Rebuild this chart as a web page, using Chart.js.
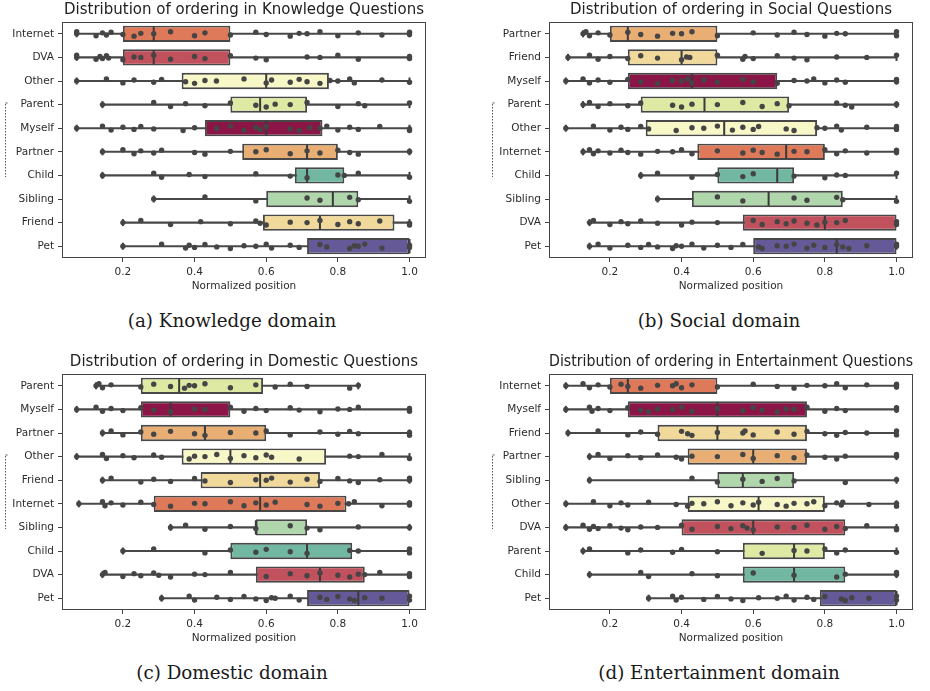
<!DOCTYPE html>
<html>
<head>
<meta charset="utf-8">
<script src="https://cdn.jsdelivr.net/npm/chart.js@4.4.1/dist/chart.umd.min.js"></script>
<style>
  html, body { margin: 0; padding: 0; background: #fff; }
  body { width: 930px; height: 691px; position: relative; overflow: hidden; }
  .panel { position: absolute; width: 465px; height: 300px; }
  .panel canvas { display: block; }
  .caption { position: absolute; font-family: 'DejaVu Serif', serif; font-size: 18.3px; color: #1a1a1a;
             white-space: nowrap; transform: translateX(-50%); line-height: 1; }
</style>
</head>
<body>
<div class="panel" style="left:0;top:0"><canvas id="knowledge" width="465" height="300"></canvas></div>
<div class="panel" style="left:465px;top:0"><canvas id="social" width="465" height="300"></canvas></div>
<div class="panel" style="left:0;top:352px"><canvas id="domestic" width="465" height="300"></canvas></div>
<div class="panel" style="left:465px;top:352px"><canvas id="entertainment" width="465" height="300"></canvas></div>
<div class="caption" style="left:232px;top:312px">(a) Knowledge domain</div>
<div class="caption" style="left:719px;top:312px">(b) Social domain</div>
<div class="caption" style="left:232px;top:664px">(c) Domestic domain</div>
<div class="caption" style="left:719px;top:664px">(d) Entertainment domain</div>
<script>
// ---------- Knowledge questions ----------
const knowledgeCategories = ['Internet', 'DVA', 'Other', 'Parent', 'Myself', 'Partner', 'Child', 'Sibling', 'Friend', 'Pet'];
const knowledgeLow    = [0.071, 0.071, 0.071, 0.143, 0.071, 0.143, 0.143, 0.286, 0.2, 0.2];
const knowledgeQ1     = [0.2, 0.2, 0.364, 0.5, 0.429, 0.533, 0.68, 0.6, 0.591, 0.714];
const knowledgeMedian = [0.286, 0.286, 0.6, 0.583, 0.6, 0.714, 0.714, 0.786, 0.75, 1.0];
const knowledgeQ3     = [0.5, 0.5, 0.775, 0.714, 0.757, 0.8, 0.818, 0.857, 0.958, 1.0];
const knowledgeHigh   = [1, 1, 1, 1, 1, 1, 1, 1, 1, 1];
const knowledgePoints = [
  [0.071, 0.071, 0.125, 0.143, 0.154, 0.167, 0.2, 0.231, 0.25, 0.286, 0.333, 0.4, 0.429, 0.5, 0.571, 0.6, 0.667, 0.692, 0.714, 0.75, 0.8, 0.857, 0.923, 1.0, 1.0],
  [0.071, 0.071, 0.125, 0.136, 0.143, 0.154, 0.16, 0.2, 0.231, 0.25, 0.286, 0.333, 0.4, 0.429, 0.5, 0.571, 0.6, 0.714, 0.75, 0.8, 0.857, 1.0, 1.0],
  [0.071, 0.154, 0.2, 0.231, 0.286, 0.308, 0.375, 0.4, 0.429, 0.461, 0.538, 0.6, 0.615, 0.667, 0.692, 0.714, 0.75, 0.778, 0.8, 0.833, 0.846, 0.923, 1.0],
  [0.143, 0.286, 0.333, 0.375, 0.429, 0.5, 0.571, 0.6, 0.625, 0.667, 0.714, 0.8, 0.857, 0.875, 1.0],
  [0.071, 0.143, 0.167, 0.2, 0.231, 0.25, 0.286, 0.368, 0.4, 0.462, 0.5, 0.538, 0.571, 0.583, 0.6, 0.667, 0.692, 0.722, 0.75, 0.769, 0.8, 0.833, 0.857, 0.917, 1.0, 1.0],
  [0.143, 0.2, 0.231, 0.25, 0.286, 0.308, 0.4, 0.429, 0.5, 0.571, 0.6, 0.667, 0.714, 0.75, 0.8, 0.833, 0.857, 1.0, 1.0],
  [0.143, 0.286, 0.308, 0.385, 0.429, 0.571, 0.667, 0.714, 0.8, 0.818, 0.857, 1.0],
  [0.286, 0.429, 0.571, 0.714, 0.75, 0.833, 0.857, 1.0],
  [0.2, 0.25, 0.333, 0.417, 0.5, 0.571, 0.583, 0.6, 0.667, 0.714, 0.75, 0.8, 0.833, 0.857, 0.917, 1.0, 1.0],
  [0.2, 0.308, 0.375, 0.385, 0.4, 0.429, 0.462, 0.5, 0.538, 0.571, 0.6, 0.615, 0.667, 0.692, 0.75, 0.769, 0.833, 0.846, 0.857, 0.875, 0.923, 1.0, 1.0]
];

// ---------- Social questions ----------
const socialCategories = ['Partner', 'Friend', 'Myself', 'Parent', 'Other', 'Internet', 'Child', 'Sibling', 'DVA', 'Pet'];
const socialLow    = [0.125, 0.083, 0.077, 0.125, 0.077, 0.125, 0.286, 0.333, 0.143, 0.143];
const socialQ1     = [0.2, 0.25, 0.25, 0.286, 0.3, 0.444, 0.5, 0.429, 0.571, 0.6];
const socialMedian = [0.25, 0.4, 0.429, 0.464, 0.519, 0.692, 0.667, 0.643, 0.8, 0.833];
const socialQ3     = [0.5, 0.5, 0.667, 0.7, 0.778, 0.8, 0.714, 0.85, 1.0, 1.0];
const socialHigh   = [1, 1, 1, 1, 1, 1, 1, 1, 1, 1];
const socialPoints = [
  [0.125, 0.133, 0.143, 0.167, 0.2, 0.25, 0.286, 0.333, 0.375, 0.4, 0.429, 0.5, 0.6, 0.667, 0.714, 0.75, 0.8, 0.833, 0.857, 1.0, 1.0],
  [0.083, 0.143, 0.167, 0.2, 0.25, 0.286, 0.333, 0.4, 0.414, 0.423, 0.5, 0.571, 0.577, 0.6, 0.667, 0.714, 0.75, 0.833, 0.917, 1.0],
  [0.077, 0.125, 0.143, 0.167, 0.2, 0.25, 0.286, 0.333, 0.375, 0.4, 0.417, 0.429, 0.462, 0.5, 0.571, 0.6, 0.667, 0.714, 0.75, 0.769, 0.8, 0.833, 0.857, 1.0, 1.0],
  [0.125, 0.143, 0.167, 0.2, 0.25, 0.286, 0.375, 0.4, 0.429, 0.5, 0.571, 0.625, 0.667, 0.7, 0.833, 0.857, 0.875, 1.0, 1.0],
  [0.077, 0.154, 0.2, 0.231, 0.25, 0.286, 0.308, 0.385, 0.429, 0.462, 0.5, 0.542, 0.571, 0.6, 0.615, 0.692, 0.714, 0.778, 0.8, 0.833, 0.846, 0.917, 1.0, 1.0],
  [0.125, 0.143, 0.154, 0.167, 0.2, 0.231, 0.25, 0.286, 0.333, 0.375, 0.4, 0.429, 0.5, 0.571, 0.6, 0.625, 0.667, 0.714, 0.75, 0.8, 0.833, 0.857, 0.917, 1.0, 1.0],
  [0.286, 0.333, 0.429, 0.5, 0.571, 0.6, 0.714, 0.8, 0.833, 0.857, 1.0],
  [0.333, 0.5, 0.571, 0.714, 0.75, 0.833, 0.85, 1.0],
  [0.143, 0.154, 0.2, 0.231, 0.25, 0.286, 0.333, 0.4, 0.429, 0.5, 0.6, 0.625, 0.667, 0.692, 0.714, 0.75, 0.778, 0.8, 0.833, 0.857, 1.0, 1.0],
  [0.143, 0.167, 0.2, 0.25, 0.286, 0.308, 0.333, 0.375, 0.385, 0.4, 0.429, 0.462, 0.5, 0.538, 0.571, 0.615, 0.625, 0.667, 0.692, 0.714, 0.75, 0.769, 0.8, 0.833, 0.85, 0.867, 0.917, 1.0, 1.0]
];

// ---------- Domestic questions ----------
const domesticCategories = ['Parent', 'Myself', 'Partner', 'Other', 'Friend', 'Internet', 'Sibling', 'Child', 'DVA', 'Pet'];
const domesticLow    = [0.125, 0.071, 0.143, 0.071, 0.143, 0.077, 0.333, 0.2, 0.143, 0.308];
const domesticQ1     = [0.25, 0.25, 0.25, 0.364, 0.417, 0.286, 0.571, 0.5, 0.571, 0.714];
const domesticMedian = [0.357, 0.333, 0.429, 0.5, 0.583, 0.583, 0.571, 0.714, 0.75, 0.857];
const domesticQ3     = [0.591, 0.5, 0.6, 0.767, 0.75, 0.824, 0.714, 0.84, 0.875, 1.0];
const domesticHigh   = [0.857, 1, 1, 1, 1, 1, 1, 1, 1, 1];
const domesticPoints = [
  [0.125, 0.133, 0.143, 0.167, 0.25, 0.286, 0.333, 0.372, 0.385, 0.4, 0.429, 0.5, 0.571, 0.625, 0.667, 0.714, 0.833, 0.857],
  [0.071, 0.125, 0.143, 0.167, 0.2, 0.25, 0.286, 0.333, 0.4, 0.429, 0.5, 0.538, 0.571, 0.6, 0.667, 0.692, 0.75, 0.8, 0.833, 0.857, 1.0, 1.0],
  [0.143, 0.167, 0.2, 0.25, 0.286, 0.333, 0.4, 0.429, 0.5, 0.571, 0.6, 0.667, 0.75, 0.8, 0.833, 0.857, 1.0, 1.0],
  [0.071, 0.143, 0.154, 0.2, 0.231, 0.286, 0.308, 0.385, 0.4, 0.429, 0.462, 0.5, 0.538, 0.571, 0.6, 0.615, 0.692, 0.833, 0.857, 0.923, 1.0],
  [0.143, 0.167, 0.25, 0.286, 0.333, 0.4, 0.429, 0.5, 0.571, 0.6, 0.615, 0.667, 0.714, 0.75, 0.8, 0.833, 0.857, 0.917, 1.0, 1.0],
  [0.077, 0.143, 0.15, 0.167, 0.2, 0.25, 0.286, 0.333, 0.4, 0.429, 0.5, 0.538, 0.571, 0.6, 0.625, 0.714, 0.75, 0.8, 0.83, 0.846, 0.923, 1.0, 1.0],
  [0.333, 0.375, 0.429, 0.5, 0.571, 0.667, 0.714, 0.75, 0.857, 1.0],
  [0.2, 0.286, 0.429, 0.5, 0.571, 0.6, 0.667, 0.714, 0.833, 0.857, 1.0, 1.0],
  [0.143, 0.15, 0.2, 0.231, 0.25, 0.286, 0.3, 0.333, 0.4, 0.429, 0.5, 0.6, 0.667, 0.714, 0.75, 0.8, 0.833, 0.857, 0.875, 0.917, 1.0, 1.0],
  [0.308, 0.385, 0.4, 0.462, 0.5, 0.538, 0.571, 0.6, 0.615, 0.625, 0.667, 0.692, 0.75, 0.769, 0.8, 0.833, 0.846, 0.875, 0.923, 1.0, 1.0]
];

// ---------- Entertainment questions ----------
const entertainmentCategories = ['Internet', 'Myself', 'Friend', 'Partner', 'Sibling', 'Other', 'DVA', 'Parent', 'Child', 'Pet'];
const entertainmentLow    = [0.077, 0.077, 0.083, 0.143, 0.143, 0.077, 0.077, 0.125, 0.143, 0.308];
const entertainmentQ1     = [0.2, 0.25, 0.333, 0.417, 0.5, 0.417, 0.4, 0.571, 0.571, 0.786];
const entertainmentMedian = [0.25, 0.5, 0.5, 0.6, 0.571, 0.615, 0.6, 0.714, 0.714, 1.0];
const entertainmentQ3     = [0.5, 0.75, 0.75, 0.75, 0.714, 0.8, 0.857, 0.8, 0.857, 1.0];
const entertainmentHigh   = [1, 1, 1, 1, 1, 1, 1, 1, 1, 1];
const entertainmentPoints = [
  [0.077, 0.125, 0.143, 0.167, 0.2, 0.231, 0.25, 0.286, 0.333, 0.375, 0.385, 0.4, 0.429, 0.5, 0.6, 0.667, 0.714, 0.75, 0.8, 0.833, 0.857, 0.917, 1.0, 1.0],
  [0.077, 0.143, 0.15, 0.167, 0.2, 0.25, 0.286, 0.308, 0.333, 0.375, 0.4, 0.429, 0.5, 0.571, 0.6, 0.625, 0.667, 0.692, 0.714, 0.75, 0.8, 0.833, 0.857, 1.0, 1.0],
  [0.083, 0.167, 0.25, 0.286, 0.333, 0.4, 0.417, 0.429, 0.5, 0.571, 0.577, 0.6, 0.667, 0.714, 0.75, 0.8, 0.833, 0.857, 0.917, 1.0, 1.0],
  [0.143, 0.167, 0.2, 0.25, 0.286, 0.333, 0.385, 0.4, 0.429, 0.5, 0.571, 0.6, 0.667, 0.714, 0.75, 0.8, 0.833, 0.857, 1.0, 1.0],
  [0.143, 0.429, 0.5, 0.571, 0.625, 0.667, 0.714, 0.857, 1.0],
  [0.077, 0.154, 0.2, 0.231, 0.25, 0.308, 0.385, 0.417, 0.429, 0.462, 0.5, 0.538, 0.571, 0.6, 0.615, 0.667, 0.692, 0.714, 0.75, 0.769, 0.8, 0.833, 0.846, 0.85, 0.923, 1.0, 1.0],
  [0.077, 0.125, 0.143, 0.154, 0.167, 0.2, 0.231, 0.25, 0.286, 0.333, 0.4, 0.429, 0.5, 0.538, 0.571, 0.583, 0.6, 0.667, 0.714, 0.75, 0.8, 0.833, 0.857, 0.917, 1.0, 1.0],
  [0.125, 0.143, 0.25, 0.286, 0.375, 0.4, 0.5, 0.625, 0.714, 0.75, 0.8, 0.833, 0.857, 1.0],
  [0.143, 0.286, 0.308, 0.429, 0.5, 0.6, 0.714, 0.833, 0.857, 1.0, 1.0],
  [0.308, 0.375, 0.385, 0.4, 0.462, 0.5, 0.538, 0.571, 0.615, 0.667, 0.692, 0.714, 0.75, 0.769, 0.8, 0.846, 0.857, 0.875, 0.923, 1.0, 1.0]
];

const xTickValues = [0.2, 0.4, 0.6, 0.8, 1.0];

// ---------- styling ----------
const CATEGORY_COLORS = {
  Myself: '#8a1546', DVA: '#c2515e', Internet: '#de7959', Partner: '#e9ae74', Friend: '#f0d99a',
  Other: '#f7f7c7', Parent: '#dee9a4', Sibling: '#b0d6ab', Child: '#71b7a1', Pet: '#655998'
};
const INK = '#444444';
const TEXT = '#2b2b2b';
const FONT = 'DejaVu Sans';
const JITTER = [0, -0.09, 0.08, -0.04, 0.05, -0.07, 0.03, 0.1, -0.02];

// Medians, whisker caps, the axes frame and the squeezed y-axis label mark
const boxDetails = {
  id: 'boxDetails',
  afterDatasetDraw(chart, args) {
    const ds = chart.data.datasets[args.index];
    if (ds.role !== 'box') return;
    const ctx = chart.ctx;
    const xs = chart.scales.x;
    const st = ds.stats;
    ctx.save();
    ctx.strokeStyle = '#3a3a3a';
    ctx.lineWidth = 2;
    args.meta.data.forEach((bar, i) => {
      const half = bar.height / 2;
      const mx = xs.getPixelForValue(st.median[i]);
      ctx.beginPath();
      ctx.moveTo(mx, bar.y - half + 1);
      ctx.lineTo(mx, bar.y + half - 1);
      ctx.stroke();
      [st.low[i], st.high[i]].forEach(v => {
        const cx = xs.getPixelForValue(v);
        ctx.beginPath();
        ctx.moveTo(cx, bar.y - 3.5);
        ctx.lineTo(cx, bar.y + 3.5);
        ctx.stroke();
      });
    });
    ctx.restore();
  },
  afterDraw(chart) {
    const ctx = chart.ctx;
    const a = chart.chartArea;
    ctx.save();
    ctx.strokeStyle = INK;
    ctx.lineWidth = 1;
    ctx.strokeRect(Math.round(a.left) + 0.5, Math.round(a.top) + 0.5,
                   Math.round(a.right - a.left) - 1, Math.round(a.bottom - a.top) - 1);
    // widest category label decides where the squeezed y label sits
    ctx.font = '10.5px ' + FONT;
    const widest = Math.max(...chart.options.categories.map(c => ctx.measureText(c).width));
    const lx = Math.round(a.left - 8 - widest - 7) + 0.5;
    const cy = (a.top + a.bottom) / 2;
    ctx.setLineDash([1.5, 1.5]);
    ctx.strokeStyle = '#555';
    ctx.beginPath();
    ctx.moveTo(lx, cy - 36);
    ctx.lineTo(lx, cy + 37);
    ctx.stroke();
    ctx.setLineDash([]);
    ctx.beginPath();
    ctx.moveTo(lx, cy - 37);
    ctx.lineTo(lx + 2, cy - 37);
    ctx.stroke();
    ctx.restore();
  }
};

function buildPanel(canvasId, title, cats, low, q1, median, q3, high, points, axisWidth, rightPad) {
  const rows = cats.map((c, i) => i);
  const scatter = [];
  points.forEach((vals, i) => vals.forEach((v, k) => scatter.push({ x: v, y: i + JITTER[k % JITTER.length] })));

  return new Chart(document.getElementById(canvasId), {
    type: 'bar',
    data: {
      datasets: [
        {
          type: 'bar', indexAxis: 'y', grouped: false, order: 3,
          data: rows.map(i => ({ y: i, x: [low[i], high[i]] })),
          backgroundColor: '#484848', borderWidth: 0,
          categoryPercentage: 1, barPercentage: 0.09
        },
        {
          type: 'bar', indexAxis: 'y', grouped: false, order: 2, role: 'box',
          stats: { low, median, high },
          data: rows.map(i => ({ y: i, x: [q1[i], q3[i]] })),
          backgroundColor: cats.map(c => CATEGORY_COLORS[c]),
          borderColor: '#484848', borderWidth: 1.9, borderSkipped: false,
          categoryPercentage: 1, barPercentage: 0.69
        },
        {
          type: 'scatter', order: 1,
          data: scatter,
          pointRadius: 2.7, pointBackgroundColor: '#454545', pointBorderWidth: 0,
          showLine: false
        }
      ]
    },
    options: {
      indexAxis: 'y',
      categories: cats,
      responsive: false,
      animation: false,
      devicePixelRatio: 1,
      events: [],
      layout: { padding: { left: 0, right: rightPad, top: 0, bottom: 0 } },
      plugins: {
        legend: { display: false },
        tooltip: { enabled: false },
        title: {
          display: true, text: title, fullSize: false, color: '#222',
          font: { family: FONT, size: 15, weight: 'normal', lineHeight: 1.2 },
          padding: { top: 1, bottom: 3 }
        }
      },
      scales: {
        x: {
          type: 'linear', min: 0.03, max: 1.046, position: 'bottom', offset: false,
          afterBuildTicks: s => { s.ticks = xTickValues.map(v => ({ value: v })); },
          afterFit: s => { s.height = 42; },
          ticks: { color: TEXT, font: { family: FONT, size: 10.5 }, padding: 4,
                   callback: v => Number(v).toFixed(1) },
          grid: { display: true, offset: false, drawOnChartArea: false, drawTicks: true, tickLength: 4, tickColor: INK },
          border: { display: false },
          title: { display: true, text: 'Normalized position', color: TEXT,
                   font: { family: FONT, size: 10.5 }, padding: { top: 2, bottom: 7 } }
        },
        y: {
          type: 'linear', reverse: true, min: -0.5, max: 9.5, offset: false, position: 'left',
          afterBuildTicks: s => { s.ticks = rows.map(i => ({ value: i })); },
          afterFit: s => { s.width = axisWidth; },
          ticks: { color: TEXT, font: { family: FONT, size: 10.5 }, padding: 4, autoSkip: false,
                   callback: v => cats[v] },
          grid: { display: true, offset: false, drawOnChartArea: false, drawTicks: true, tickLength: 4, tickColor: INK },
          border: { display: false }
        }
      }
    },
    plugins: [boxDetails]
  });
}

buildPanel('knowledge', 'Distribution of ordering in Knowledge Questions', knowledgeCategories,
  knowledgeLow, knowledgeQ1, knowledgeMedian, knowledgeQ3, knowledgeHigh, knowledgePoints, 62, 39);
buildPanel('social', 'Distribution of ordering in Social Questions', socialCategories,
  socialLow, socialQ1, socialMedian, socialQ3, socialHigh, socialPoints, 84, 17);
buildPanel('domestic', 'Distribution of ordering in Domestic Questions', domesticCategories,
  domesticLow, domesticQ1, domesticMedian, domesticQ3, domesticHigh, domesticPoints, 62, 39);
buildPanel('entertainment', 'Distribution of ordering in Entertainment Questions', entertainmentCategories,
  entertainmentLow, entertainmentQ1, entertainmentMedian, entertainmentQ3, entertainmentHigh, entertainmentPoints, 84, 17);
</script>
</body>
</html>
